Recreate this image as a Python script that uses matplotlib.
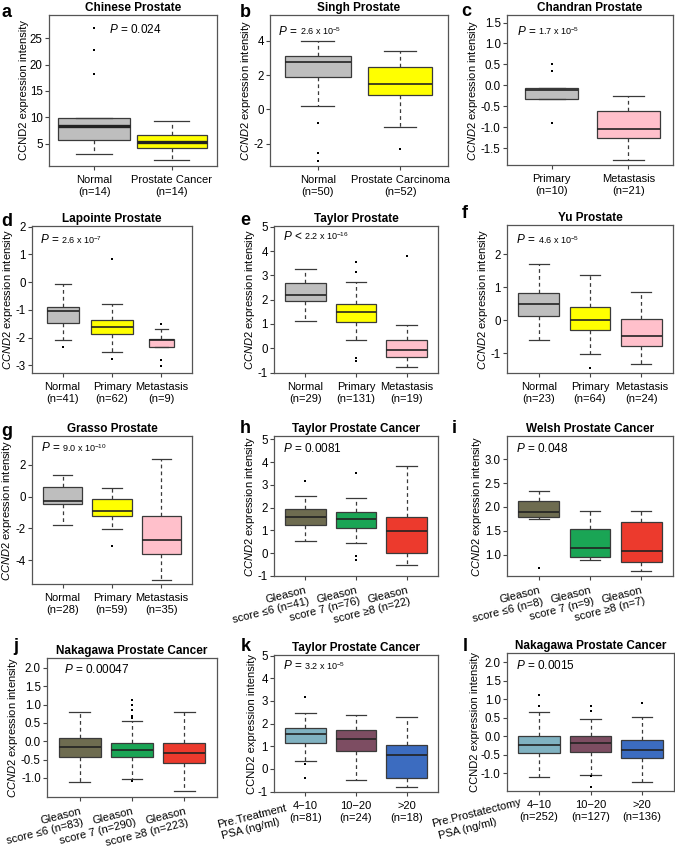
import numpy as np
import matplotlib.pyplot as plt

plt.rcParams['font.family'] = ['Liberation Sans', 'DejaVu Sans']
plt.rcParams['mathtext.fontset'] = 'custom'
plt.rcParams['mathtext.rm'] = 'Liberation Sans'
plt.rcParams['mathtext.it'] = 'Liberation Sans:italic'
plt.rcParams['mathtext.bf'] = 'Liberation Sans:bold'
plt.rcParams['axes.unicode_minus'] = False

# box statistics per group: [low whisker, q1, median, q3, high whisker]

# a  Chinese Prostate
a_names = ['Normal\n(n=14)', 'Prostate Cancer\n(n=14)']
a_stats = [[2.97, 5.63, 8.37, 9.95, 9.95], [1.83, 4.24, 5.32, 6.65, 9.25]]
a_out = [[26.9, 22.8, 18.3], []]

# b  Singh Prostate
b_names = ['Normal\n(n=50)', 'Prostate Carcinoma\n(n=52)']
b_stats = [[0.2, 1.9, 2.75, 3.1, 4.0], [-1.0, 0.85, 1.5, 2.45, 3.4]]
b_out = [[-0.8, -2.55, -3.0], [-2.3]]

# c  Chandran Prostate
c_names = ['Primary\n(n=10)', 'Metastasis\n(n=21)']
c_stats = [[-0.32, -0.32, -0.12, -0.064, -0.064], [-1.78, -1.25, -1.05, -0.62, -0.25]]
c_out = [[0.5, 0.35, -0.9], []]

# d  Lapointe Prostate
d_names = ['Normal\n(n=41)', 'Primary\n(n=62)', 'Metastasis\n(n=9)']
d_stats = [[-2.09, -1.47, -1.05, -0.91, -0.08],
           [-2.5, -1.87, -1.61, -1.35, -0.78],
           [-2.34, -2.34, -2.07, -2.06, -1.67]]
d_out = [[-2.34], [0.83, -2.75], [-1.5, -2.8, -3.03]]

# e  Taylor Prostate
e_names = ['Normal\n(n=29)', 'Primary\n(n=131)', 'Metastasis\n(n=19)']
e_stats = [[1.14, 1.96, 2.17, 2.68, 3.26],
           [0.35, 1.08, 1.5, 1.8, 2.72],
           [-0.79, -0.35, -0.08, 0.34, 0.94]]
e_out = [[], [3.54, 3.13, -0.4, -0.53], [3.81]]

# f  Yu Prostate
f_names = ['Normal\n(n=23)', 'Primary\n(n=64)', 'Metastasis\n(n=24)']
f_stats = [[-0.6, 0.14, 0.48, 0.84, 1.71],
           [-1.03, -0.31, 0.0, 0.41, 1.38],
           [-1.33, -0.78, -0.47, 0.04, 0.86]]
f_out = [[], [-1.46], []]

# g  Grasso Prostate
g_names = ['Normal\n(n=28)', 'Primary\n(n=59)', 'Metastasis\n(n=35)']
g_stats = [[-1.77, -0.46, -0.25, 0.58, 1.35],
           [-2.04, -1.21, -0.92, -0.17, 0.56],
           [-5.21, -3.62, -2.71, -1.25, 2.35]]
g_out = [[], [-3.12], []]

# h  Taylor Prostate Cancer (Gleason)
h_names = ['Gleason\nscore \u22646 (n=41)', 'Gleason\nscore 7 (n=76)', 'Gleason\nscore \u22658 (n=22)']
h_stats = [[0.54, 1.25, 1.57, 1.93, 2.5],
           [0.46, 1.1, 1.5, 1.81, 2.44],
           [-0.51, 0.0, 0.96, 1.59, 3.82]]
h_out = [[3.16], [3.54, -0.13, -0.29], []]

# i  Welsh Prostate Cancer (Gleason)
i_names = ['Gleason\nscore \u22646 (n=8)', 'Gleason\nscore 7 (n=9)', 'Gleason\nscore \u22658 (n=7)']
i_stats = [[1.74, 1.79, 1.89, 2.13, 2.33],
           [0.88, 0.95, 1.13, 1.53, 1.92],
           [0.66, 0.85, 1.08, 1.68, 1.92]]
i_out = [[0.71], [], []]

# j  Nakagawa Prostate Cancer (Gleason)
j_names = ['Gleason\nscore \u22646 (n=83)', 'Gleason\nscore 7 (n=290)', 'Gleason\nscore \u22658 (n=223)']
j_stats = [[-1.11, -0.44, -0.16, 0.1, 0.81],
           [-1.02, -0.42, -0.24, -0.04, 0.56],
           [-1.36, -0.6, -0.31, -0.04, 0.8]]
j_out = [[], [1.12, 1.0, 0.86, 0.68, 0.63, -1.09], []]

# k  Taylor Prostate Cancer (PSA)
k_names = ['4\u221210\n(n=81)', '10\u221220\n(n=24)', '>20\n(n=18)']
k_stats = [[0.35, 1.16, 1.55, 1.79, 2.49],
           [-0.51, 0.81, 1.32, 1.74, 2.39],
           [-0.81, -0.41, 0.61, 1.05, 2.31]]
k_out = [[3.18, 0.22, -0.42], [], []]

# l  Nakagawa Prostate Cancer (PSA)
l_names = ['4\u221210\n(n=252)', '10\u221220\n(n=127)', '>20\n(n=136)']
l_stats = [[-1.11, -0.46, -0.24, 0.02, 0.66],
           [-1.05, -0.43, -0.19, 0.0, 0.47],
           [-1.25, -0.6, -0.38, -0.11, 0.53]]
l_out = [[1.11, 0.81], [0.81, 0.68, -1.08, -1.36], [0.89]]

gray, yellow, pink = '#BEBEBE', '#FFFF00', '#FFC0CB'
gleason_cols = ['#6E6C50', '#1AA555', '#EC3A2D']
psa_cols = ['#80B2C1', '#7D4D62', '#3C6CC0']

ylab = r'$\it{CCND2}$ expression intensity'
ylab_up = 'CCND2 expression intensity'

fig = plt.figure(figsize=(6.75, 8.6), dpi=100)
W, H = 675.0, 860.0


def make_ax(l, t, r, b):
    return fig.add_axes([l / W, 1 - b / H, (r - l) / W, (b - t) / H])


def boxes(ax, stats, out, cols, widths, mlw=1.2):
    n = len(stats)
    bx = [dict(whislo=s[0], q1=s[1], med=s[2], q3=s[3], whishi=s[4], fliers=o)
          for s, o in zip(stats, out)]
    res = ax.bxp(bx, positions=range(1, n + 1), widths=widths,
                 capwidths=[0.5 * w for w in widths], patch_artist=True,
                 boxprops=dict(edgecolor='#3a3a3a', linewidth=0.9),
                 whiskerprops=dict(color='#3a3a3a', linestyle=(0, (3, 2.5)), linewidth=0.9),
                 capprops=dict(color='#3a3a3a', linewidth=0.9),
                 medianprops=dict(color='#222222', linewidth=mlw, solid_capstyle='butt'),
                 flierprops=dict(marker='s', markersize=2.1, markerfacecolor='k',
                                 markeredgewidth=0, linestyle='none'))
    for p, c in zip(res['boxes'], cols):
        p.set_facecolor(c)
    # R style range: 0.5 .. n+0.5 widened by 4 % on each side
    pad = 0.04 * n
    ax.set_xlim(0.5 - pad, n + 0.5 + pad)


def style(ax, title, ylim, yticks, label=ylab):
    ax.set_ylim(*ylim)
    ax.set_yticks(yticks)
    ax.set_title(title, fontsize=8.5, fontweight='bold', pad=3)
    ax.set_ylabel(label, fontsize=8, labelpad=0.8)
    ax.tick_params(length=3, color='#444444', width=0.8)
    ax.tick_params(axis='y', pad=1.5, labelsize=8.3)
    ax.tick_params(axis='x', labelsize=8)
    for s in ax.spines.values():
        s.set_color('#555555')
        s.set_linewidth(0.9)


def pval(ax, x, y, head, tail=None):
    t = ax.text(x, y, head, transform=ax.transAxes, fontsize=8.5, va='center', ha='left')
    if tail:
        ax.annotate(tail, xy=(1, 0), xycoords=t, va='bottom', ha='left',
                    fontsize=6.5, xytext=(1, 0.5), textcoords='offset points')


def psa_note(ax, first, second, x1, y1, x2, y2):
    # two rotated lines under the left edge, offsets in pixels from the axes' bottom-left
    for s, dx, dy in [(first, x1, y1), (second, x2, y2)]:
        ax.annotate(s, xy=(0, 0), xycoords='axes fraction', xytext=(dx * 0.72, -dy * 0.72),
                    textcoords='offset points', rotation=14, ha='right', va='baseline',
                    rotation_mode='anchor', fontsize=8)


def gleason_ticks(ax, names):
    ax.set_xticks([1, 2, 3], names, rotation=14, ha='right', rotation_mode='anchor',
                  multialignment='right')


P = r'$\it{P}$ = '
dec_ticks = [-1.0, -0.5, 0.0, 0.5, 1.0, 1.5, 2.0]
w3 = [0.8, 0.8, 0.8]

# a
ax = make_ax(49, 15, 217, 166)
boxes(ax, a_stats, a_out, [gray, yellow], [0.92, 0.9], mlw=2.4)
style(ax, 'Chinese Prostate', (0.75, 29.4), [5, 10, 15, 20, 25], ylab_up)
ax.set_xticks([1, 2], a_names)
pval(ax, 0.36, 0.905, P + '0.024')

# b
ax = make_ax(270, 15, 448, 166)
boxes(ax, b_stats, b_out, [gray, yellow], [0.8, 0.77])
style(ax, 'Singh Prostate', (-3.3, 5.5), [-2, 0, 2, 4])
ax.set_xticks([1, 2], b_names)
pval(ax, 0.047, 0.89, P, r'2.6 x 10$^{-5}$')

# c
ax = make_ax(507, 15, 673, 165)
boxes(ax, c_stats, c_out, [gray, pink], [0.68, 0.81])
ct = [-1.5, -1.0, -0.5, 0.0, 0.5, 1.0, 1.5]
style(ax, 'Chandran Prostate', (-1.9, 1.68), ct)
ax.set_yticklabels(['%.1f' % v for v in ct])
ax.set_xticks([1, 2], c_names)
pval(ax, 0.06, 0.89, P, r'1.7 x 10$^{-5}$')

# d
ax = make_ax(32, 226, 192, 373)
boxes(ax, d_stats, d_out, [gray, yellow, pink], [0.65, 0.84, 0.5])
style(ax, 'Lapointe Prostate', (-3.27, 2.02), [-3, -2, -1, 0, 1, 2])
ax.set_xticks([1, 2, 3], d_names)
pval(ax, 0.05, 0.905, P, r'2.6 x 10$^{-7}$')

# e
ax = make_ax(274, 226, 438, 373)
boxes(ax, e_stats, e_out, [gray, yellow, pink], w3)
style(ax, 'Taylor Prostate', (-1.02, 5.03), [-1, 0, 1, 2, 3, 4, 5])
ax.set_xticks([1, 2, 3], e_names)
pval(ax, 0.055, 0.93, r'$\it{P}$ < ', r'2.2 x 10$^{-16}$')

# f
ax = make_ax(507, 225, 673, 373)
boxes(ax, f_stats, f_out, [gray, yellow, pink], w3)
style(ax, 'Yu Prostate', (-1.6, 2.89), [-1, 0, 1, 2])
ax.set_xticks([1, 2, 3], f_names)
pval(ax, 0.056, 0.9, P, r'4.6 x 10$^{-5}$')

# g
ax = make_ax(32, 436, 192, 584)
boxes(ax, g_stats, g_out, [gray, yellow, pink], w3)
style(ax, 'Grasso Prostate', (-5.48, 3.79), [-4, -2, 0, 2])
ax.set_xticks([1, 2, 3], g_names)
pval(ax, 0.056, 0.92, P, r'9.0 x 10$^{-10}$')

# h
ax = make_ax(274, 436, 438, 576)
boxes(ax, h_stats, h_out, gleason_cols, w3)
style(ax, 'Taylor Prostate Cancer', (-1.01, 5.15), [-1, 0, 1, 2, 3, 4, 5])
gleason_ticks(ax, h_names)
pval(ax, 0.055, 0.91, P + '0.0081')

# i
ax = make_ax(507, 436, 673, 576)
boxes(ax, i_stats, i_out, gleason_cols, w3)
it = [1.0, 1.5, 2.0, 2.5, 3.0]
style(ax, 'Welsh Prostate Cancer', (0.55, 3.49), it)
ax.set_yticklabels(['%.1f' % v for v in it])
gleason_ticks(ax, i_names)
pval(ax, 0.056, 0.91, P + '0.048')

# j
ax = make_ax(47, 658, 217, 797)
boxes(ax, j_stats, j_out, gleason_cols, w3)
style(ax, 'Nakagawa Prostate Cancer', (-1.52, 2.27), dec_ticks)
ax.set_yticklabels(['%.1f' % v for v in dec_ticks])
gleason_ticks(ax, j_names)
pval(ax, 0.1, 0.915, P + '0.00047')

# k
ax = make_ax(274, 655, 438, 792)
boxes(ax, k_stats, k_out, psa_cols, w3)
style(ax, 'Taylor Prostate Cancer', (-1.02, 5.03), [-1, 0, 1, 2, 3, 4, 5], ylab_up)
ax.set_xticks([1, 2, 3], k_names)
pval(ax, 0.055, 0.92, P, r'3.2 x 10$^{-5}$')
psa_note(ax, 'Pre.Treatment', 'PSA (ng/ml)', 13, 19, 6, 33)

# l
ax = make_ax(507, 653, 674, 791)
boxes(ax, l_stats, l_out, psa_cols, w3)
style(ax, 'Nakagawa Prostate Cancer', (-1.48, 2.25), dec_ticks, ylab_up)
ax.set_yticklabels(['%.1f' % v for v in dec_ticks])
ax.set_xticks([1, 2, 3], l_names)
pval(ax, 0.056, 0.91, P + '0.0015')
psa_note(ax, 'Pre.Prostatectomy', 'PSA (ng/ml)', 15, 14, -10, 34)

# panel letters (baseline positions in pixels)
letters = [('a', 6, 17), ('b', 245, 17), ('c', 466, 16), ('d', 7, 226), ('e', 245, 225),
           ('f', 465, 218), ('g', 7, 436), ('h', 245, 433), ('i', 454, 433), ('j', 16, 651),
           ('k', 246, 651), ('l', 465, 651)]
for s, x, y in letters:
    fig.text(x / W, 1 - y / H, s, fontsize=13, fontweight='bold', ha='center', va='baseline')

fig.savefig('out.png', dpi=100)
